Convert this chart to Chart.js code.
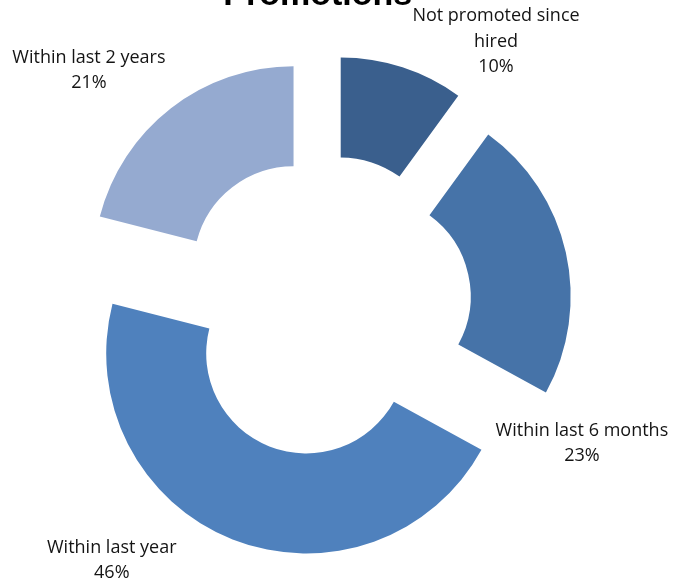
<!DOCTYPE html>
<html>
<head>
<meta charset="utf-8">
<script src="https://cdn.jsdelivr.net/npm/chart.js@4/dist/chart.umd.min.js"></script>
<style>
  html, body { margin: 0; padding: 0; background: #fff; }
  #wrap { width: 687px; height: 584px; }
</style>
</head>
<body>
<div id="wrap"><canvas id="promotions"></canvas></div>
<script>
const chartTitle = 'Promotions'
const categories = ['Not promoted since hired', 'Within last 6 months', 'Within last year', 'Within last 2 years']
const labelLines = [['Not promoted since', 'hired'], ['Within last 6 months'], ['Within last year'], ['Within last 2 years']]
const shares = [10, 23, 46, 21]

const sliceColors = ['#3A5F8D', '#4673A8', '#4F81BD', '#95AAD0']
const explodePx = [51.5, 47, 50.5, 51]
// label anchor: angle from 12 o'clock (deg), distance as multiple of outer radius
const labelAngle = [32.9, 118, 220, 315]
const labelDist = [1.576, 1.456, 1.657, 1.668]

// chart.js offset also grows the arc radius, so the slices are pushed out here instead
const explodeSlices = {
  id: 'explodeSlices',
  beforeDatasetDraw(chart, args) {
    const ctx = chart.ctx
    args.meta.data.forEach((arc, i) => {
      const mid = (arc.startAngle + arc.endAngle) / 2
      ctx.save()
      ctx.translate(Math.cos(mid) * explodePx[i], Math.sin(mid) * explodePx[i])
      arc.draw(ctx)
      ctx.restore()
    })
    return false
  }
}

const sliceLabels = {
  id: 'sliceLabels',
  afterDatasetsDraw(chart) {
    const ctx = chart.ctx
    const arcs = chart.getDatasetMeta(0).data
    ctx.save()
    ctx.fillStyle = '#141414'
    ctx.font = '18px "Open Sans"'
    ctx.textAlign = 'center'
    ctx.textBaseline = 'middle'
    arcs.forEach((arc, i) => {
      const a = labelAngle[i] * Math.PI / 180
      const r = arc.outerRadius * labelDist[i]
      const cx = arc.x + Math.sin(a) * r
      const cy = arc.y - Math.cos(a) * r
      const lines = labelLines[i].concat(shares[i] + '%')
      lines.forEach((t, k) => {
        ctx.fillText(t, cx, cy + (k - (lines.length - 1) / 2) * 25.5)
      })
    })

    // title sits mostly above the canvas, only its lower part shows
    ctx.fillStyle = '#000'
    ctx.font = 'bold 34px "Liberation Sans"'
    ctx.textBaseline = 'alphabetic'
    ctx.fillText(chartTitle, arcs[0].x - 7, 5)
    ctx.restore()
  }
}

const ctxPromotions = document.getElementById('promotions').getContext('2d')
const chartPromotions = new Chart(ctxPromotions, {
  type: 'doughnut',
  data: {
    labels: categories,
    datasets: [{
      data: shares,
      backgroundColor: sliceColors,
      borderWidth: 0,
    }]
  },
  options: {
    responsive: true,
    maintainAspectRatio: false,
    animation: false,
    radius: 200,
    cutout: '50%',
    layout: { padding: { left: 0, right: 37.4, top: 29, bottom: 0 } },
    plugins: {
      legend: { display: false },
      tooltip: { enabled: false },
      title: { display: false },
    }
  },
  plugins: [explodeSlices, sliceLabels]
})
</script>
</body>
</html>
